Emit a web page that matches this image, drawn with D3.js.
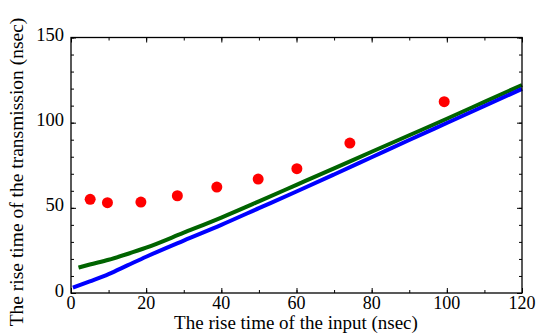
<!DOCTYPE html>
<html>
<head>
<meta charset="utf-8">
<script src="https://cdn.jsdelivr.net/npm/d3@7"></script>
<style>
  body { margin: 0; background: #fff; }
  svg { display: block; }
  text { font-family: "Liberation Serif", "Times New Roman", Tinos, "DejaVu Serif", serif; }
</style>
</head>
<body>
<svg id="chart" width="537" height="333"></svg>
<script>
// measured points (red dots)
const dotX = [5.1, 9.7, 18.6, 28.3, 38.8, 49.8, 60.1, 74.2, 99.3];
const dotY = [55.0, 53.0, 53.4, 57.1, 62.2, 66.9, 73.0, 88.0, 112.3];

// green curve
const greenX = [2, 5, 10, 15, 20, 30, 40, 50, 60, 70, 80, 90, 100, 110, 120];
const greenY = [14.9, 16.7, 19.5, 22.9, 26.6, 35.4, 44.3, 53.8, 63.5, 73.2, 82.9, 92.6, 102.3, 112.2, 122.1];

// blue curve
const blueX = [0.5, 5, 10, 15, 20, 30, 40, 50, 60, 70, 80, 90, 100, 110, 120];
const blueY = [3.1, 6.8, 11.1, 16.2, 21.3, 30.8, 40.0, 49.8, 59.6, 69.6, 79.7, 89.8, 99.8, 109.8, 119.8];

const xTicks = [0, 20, 40, 60, 80, 100, 120];
const yTicks = [0, 50, 100, 150];
const xMinor = d3.range(0, 121, 10);
const yMinor = d3.range(0, 151, 10);

const xLabel = 'The rise time of the input (nsec)';
const yLabel = 'The rise time of the transmission (nsec)';

const serif = '"Liberation Serif", "Times New Roman", Tinos, "DejaVu Serif", serif';
const margin = { top: 37.5, right: 15, bottom: 40, left: 71 };
const width = 537, height = 333;
const svg = d3.select('#chart');

const xScale = d3.scaleLinear().domain([0, 120]).range([margin.left, width - margin.right]);
const yScale = d3.scaleLinear().domain([0, 150]).range([height - margin.bottom, margin.top]);

const x0 = xScale(0), x1 = xScale(120), y0 = yScale(0), y1 = yScale(150);

// ticks, all pointing into the frame
function tickAxis(axis, transform, size, values) {
  const g = svg.append('g').attr('transform', transform)
    .call(axis.tickValues(values).tickSize(size).tickFormat(''));
  g.select('.domain').remove();
  g.selectAll('line').attr('stroke', '#000').attr('stroke-width', 1);
  return g;
}
tickAxis(d3.axisBottom(xScale), `translate(0,${y0})`, -3, xMinor);
tickAxis(d3.axisBottom(xScale), `translate(0,${y0})`, -5, xTicks);
tickAxis(d3.axisTop(xScale), `translate(0,${y1})`, -3, xMinor);
tickAxis(d3.axisTop(xScale), `translate(0,${y1})`, -5, xTicks);
tickAxis(d3.axisLeft(yScale), `translate(${x0},0)`, -3, yMinor);
tickAxis(d3.axisLeft(yScale), `translate(${x0},0)`, -5, yTicks);
tickAxis(d3.axisRight(yScale), `translate(${x1},0)`, -3, yMinor);
tickAxis(d3.axisRight(yScale), `translate(${x1},0)`, -5, yTicks);

// tick labels
svg.append('g').selectAll('text').data(xTicks).enter().append('text')
  .attr('x', d => xScale(d))
  .attr('y', y0 + 16)
  .attr('text-anchor', 'middle')
  .attr('font-family', serif)
  .attr('font-size', 18)
  .text(d => d);

svg.append('g').selectAll('text').data(yTicks).enter().append('text')
  .attr('x', x0 - 7)
  .attr('y', d => yScale(d) + 3.5)
  .attr('text-anchor', 'end')
  .attr('font-family', serif)
  .attr('font-size', 18.5)
  .text(d => d);

// curves
const line = d3.line()
  .x(d => xScale(d[0]))
  .y(d => yScale(d[1]))
  .curve(d3.curveMonotoneX);

svg.append('path')
  .datum(greenX.map((x, i) => [x, greenY[i]]))
  .attr('d', line)
  .attr('fill', 'none')
  .attr('stroke', '#006400')
  .attr('stroke-width', 4);

svg.append('path')
  .datum(blueX.map((x, i) => [x, blueY[i]]))
  .attr('d', line)
  .attr('fill', 'none')
  .attr('stroke', '#0000ff')
  .attr('stroke-width', 4);

// dots
svg.append('g').selectAll('circle').data(dotX).enter().append('circle')
  .attr('cx', d => xScale(d))
  .attr('cy', (d, i) => yScale(dotY[i]))
  .attr('r', 5.5)
  .attr('fill', '#ff0000');

// frame
svg.append('rect')
  .attr('x', x0).attr('y', y1)
  .attr('width', x1 - x0).attr('height', y0 - y1)
  .attr('fill', 'none')
  .attr('stroke', '#000')
  .attr('stroke-width', 1.3);

// axis titles
svg.append('text')
  .attr('x', 296)
  .attr('y', 328.5)
  .attr('text-anchor', 'middle')
  .attr('font-family', serif)
  .attr('font-size', 19)
  .text(xLabel);

svg.append('text')
  .attr('transform', 'translate(23,172) rotate(-90)')
  .attr('text-anchor', 'middle')
  .attr('font-family', serif)
  .attr('font-size', 19.5)
  .text(yLabel);
</script>
</body>
</html>
